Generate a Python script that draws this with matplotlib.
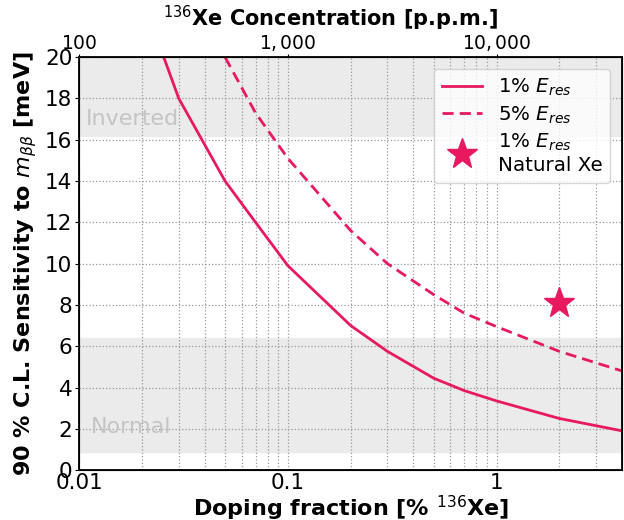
import numpy as np
import matplotlib.pyplot as plt
from matplotlib.ticker import FuncFormatter, FixedLocator, LogLocator, NullFormatter

# doping fraction [% 136Xe] and 90% C.L. sensitivity [meV]
frac_1pct = [0.025, 0.03, 0.05, 0.07, 0.1, 0.2, 0.3, 0.5, 0.7, 1.0, 2.0, 4.0]
sens_1pct = [20.2, 18.0, 14.0, 12.0, 9.9, 7.0, 5.75, 4.45, 3.85, 3.35, 2.5, 1.9]

frac_5pct = [0.05, 0.07, 0.1, 0.2, 0.3, 0.5, 0.7, 1.0, 2.0, 4.0]
sens_5pct = [20.0, 17.3, 15.1, 11.6, 10.0, 8.5, 7.6, 6.95, 5.75, 4.8]

natural_frac = [2.0]
natural_sens = [8.1]

inverted_band = (16.2, 21.0)
normal_band = (0.9, 6.4)

color = "#e8195e"

fig = plt.figure(figsize=(6.24, 5.2), dpi=100)
ax = fig.add_axes([0.127, 0.096, 0.870, 0.794])

ax.axhspan(*inverted_band, color="#ebebeb", zorder=0)
ax.axhspan(*normal_band, color="#ebebeb", zorder=0)
ax.text(0.0108, 17.0, "Inverted", color="#c4c4c4", fontsize=16, va="center")
ax.text(0.0114, 2.1, "Normal", color="#c4c4c4", fontsize=16, va="center")

ax.plot(frac_1pct, sens_1pct, color=color, lw=2, label=r"1% $E_{res}$")
ax.plot(frac_5pct, sens_5pct, color=color, lw=2, ls=(0, (4, 2.2)), label=r"5% $E_{res}$")
ax.plot(natural_frac, natural_sens, ls="none", marker="*", ms=23, color=color,
        label="1% $E_{res}$\nNatural Xe")

ax.set_xscale("log")
ax.set_xlim(0.01, 4.0)
ax.set_ylim(0, 20)
ax.set_yticks(np.arange(0, 21, 2))
ax.xaxis.set_major_locator(FixedLocator([0.01, 0.1, 1]))
ax.xaxis.set_major_formatter(FuncFormatter(lambda v, p: f"{v:g}"))
ax.xaxis.set_minor_locator(LogLocator(subs=np.arange(2, 10)))
ax.xaxis.set_minor_formatter(NullFormatter())
ax.tick_params(labelsize=15.5)
ax.tick_params(axis="y", length=3, pad=2)
ax.tick_params(axis="x", which="both", length=0, pad=2)
ax.grid(True, which="both", axis="x", ls=":", color="#999999", lw=0.9)
ax.grid(True, which="major", axis="y", ls=":", color="#999999", lw=0.9)
for s in ax.spines.values():
    s.set_linewidth(1.3)

ax.set_xlabel(r"Doping fraction [% $^{136}$Xe]", fontsize=16, fontweight="bold", labelpad=1)
ax.set_ylabel(r"90 % C.L. Sensitivity to $m_{\beta\beta}$ [meV]", fontsize=16,
              fontweight="bold", labelpad=4)

leg = ax.legend(loc="upper right", fontsize=14.3, handlelength=2.0, borderaxespad=0.6,
                labelspacing=0.3, framealpha=0.8)

# top axis: concentration in p.p.m. (1% = 10,000 ppm)
top = ax.twiny()
top.set_xscale("log")
top.set_xlim(0.01 * 1e4, 4.0 * 1e4)
top.xaxis.set_major_locator(FixedLocator([100, 1000, 10000]))
top.xaxis.set_major_formatter(FuncFormatter(
    lambda v, p: r"$\mathdefault{" + f"{v:,.0f}".replace(",", "{,}\\,") + "}$"))
top.xaxis.set_minor_locator(LogLocator(subs=np.arange(2, 10)))
top.xaxis.set_minor_formatter(NullFormatter())
top.tick_params(labelsize=13.5, pad=1)
top.tick_params(which="minor", length=0)
top.tick_params(which="major", length=2)
top.set_xlabel(r"$^{136}$Xe Concentration [p.p.m.]", fontsize=15, fontweight="bold", labelpad=2)
top.xaxis.set_label_coords(0.462, 1.075)

fig.savefig("out.png", dpi=100)
